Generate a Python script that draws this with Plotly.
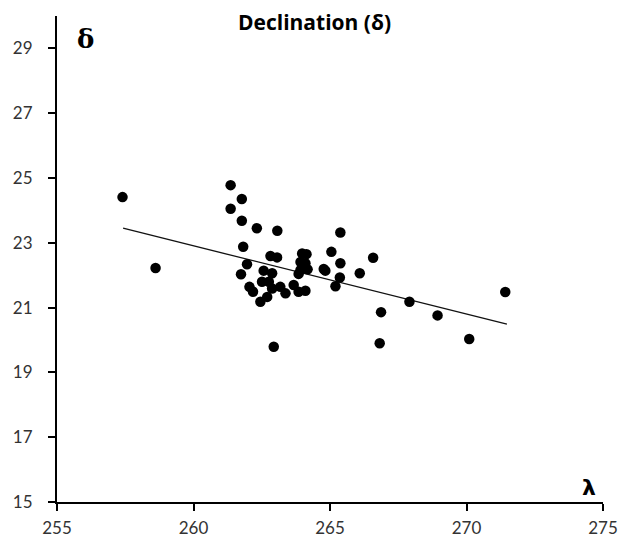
import plotly.graph_objects as go

# Right ascension (lambda) and declination (delta) values
lam = [257.40, 258.61, 261.36, 261.77, 261.36, 261.77, 262.32, 263.07, 261.82, 262.82,
       263.06, 261.96, 261.74, 262.57, 262.88, 262.51, 262.76, 262.05, 262.18, 262.88,
       263.18, 263.37, 263.67, 263.85, 264.10, 262.45, 262.70, 262.94, 263.98, 264.14,
       263.92, 264.10, 263.92, 264.18, 263.85, 265.38, 265.05, 266.58, 265.38, 264.77,
       264.83, 265.36, 266.09, 265.20, 267.91, 266.87, 268.94, 266.82, 270.10, 271.42]
dec = [24.41, 22.22, 24.78, 24.35, 24.05, 23.68, 23.45, 23.37, 22.88, 22.59,
       22.55, 22.34, 22.03, 22.14, 22.06, 21.80, 21.80, 21.64, 21.49, 21.59,
       21.64, 21.44, 21.70, 21.49, 21.52, 21.18, 21.33, 19.79, 22.67, 22.65,
       22.41, 22.37, 22.16, 22.18, 22.04, 23.32, 22.72, 22.54, 22.37, 22.19,
       22.14, 21.93, 22.06, 21.66, 21.18, 20.86, 20.76, 19.90, 20.03, 21.48]

# Linear trend line endpoints
trend_x = [257.42, 271.48]
trend_y = [23.45, 20.49]

x_ticks = [255, 260, 265, 270, 275]
y_ticks = [15, 17, 19, 21, 23, 25, 27, 29]

fig = go.Figure()
fig.add_trace(go.Scatter(x=trend_x, y=trend_y, mode="lines",
                         line=dict(color="#111111", width=1.3), showlegend=False))
fig.add_trace(go.Scatter(x=lam, y=dec, mode="markers",
                         marker=dict(color="black", size=10.5), showlegend=False))

tickfont = dict(family="Lato, Liberation Sans, sans-serif", size=17, color="#333333")
fig.update_xaxes(range=[255, 275], tickvals=x_ticks, showgrid=False, zeroline=False,
                 showline=True, linecolor="black", linewidth=2,
                 ticks="outside", ticklen=7, tickwidth=2, tickcolor="black",
                 tickfont=tickfont, ticklabelstandoff=3, automargin=False)
fig.update_yaxes(range=[15, 30], tickvals=y_ticks, showgrid=False, zeroline=False,
                 showline=True, linecolor="black", linewidth=2,
                 ticks="outside", ticklen=7, tickwidth=2, tickcolor="black",
                 tickfont=tickfont, ticklabelstandoff=12, automargin=False)

fig.update_layout(
    width=620, height=541,
    margin=dict(l=57, r=17, t=16, b=39),
    plot_bgcolor="white", paper_bgcolor="white",
    annotations=[
        dict(text="<b>Declination (δ)</b>", xref="paper", yref="paper",
             x=0.472, y=1.0, xanchor="center", yanchor="middle", yshift=-6, showarrow=False,
             font=dict(family="Open Sans, sans-serif", size=21, color="black")),
        dict(text="<b>δ</b>", x=256.05, y=29.3, xanchor="center", yanchor="middle",
             showarrow=False, font=dict(family="DejaVu Serif, serif", size=26, color="black")),
        dict(text="<b>λ</b>", x=274.5, y=15.45, xanchor="center", yanchor="middle",
             showarrow=False, font=dict(family="DejaVu Sans, sans-serif", size=22, color="black")),
    ],
)

fig.write_html("out.html")
